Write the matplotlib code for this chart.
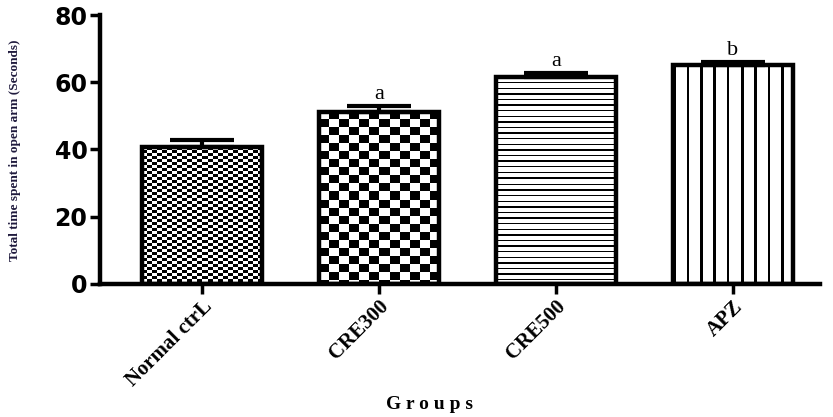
import numpy as np
import matplotlib
matplotlib.use('Agg')
import matplotlib.pyplot as plt

# data
groups = ['Normal ctrL', 'CRE300', 'CRE500', 'APZ']
means = [40.7, 51.2, 61.6, 65.1]
sems = [2.1, 1.7, 1.2, 0.8]
letters = ['', 'a', 'a', 'b']
patterns = ['fine_check', 'big_check', 'hlines', 'vlines']

DPI = 100
fig = plt.figure(figsize=(8.33, 4.17), dpi=DPI)
ax = fig.add_axes([0.12, 0.319, 0.864, 0.645])

x = np.arange(len(groups))
ax.set_xlim(-0.576, 3.49)
ax.set_ylim(0, 80)

bars = ax.bar(x, means, width=0.68, facecolor='none', edgecolor='black',
              linewidth=3.2, zorder=3)
ax.errorbar(x, means, yerr=[np.zeros(len(sems)), sems], fmt='none',
            ecolor='black', elinewidth=3, capsize=23, capthick=3, zorder=4)


def texture(kind, w, h):
    yy, xx = np.mgrid[0:h, 0:w]
    if kind == 'fine_check':
        a = ((yy // 3) + (xx // 5)) % 2
    elif kind == 'big_check':
        a = ((yy // 8) + (xx // 10)) % 2
    elif kind == 'hlines':
        a = ((yy % 5.6) < 1.4).astype(int)
    else:
        a = ((xx % 13.3) < 2.6).astype(int)
    return 1 - a


# fill each bar with its pattern, clipped to the bar
fig.canvas.draw()
for b, kind in zip(bars, patterns):
    bb = b.get_window_extent()
    w_px, h_px = int(round(bb.width)), int(round(bb.height))
    img = texture(kind, max(w_px, 1), max(h_px, 1))
    im = ax.imshow(img, cmap='gray', vmin=0, vmax=1, interpolation='nearest',
                   extent=(b.get_x(), b.get_x() + b.get_width(), 0, b.get_height()),
                   origin='upper', aspect='auto', zorder=2)
    im.set_clip_path(b)

for xi, m, s, t in zip(x, means, sems, letters):
    if t:
        ax.text(xi, m + s + 0.6, t, ha='center', va='bottom', fontsize=16,
                family='Liberation Serif', zorder=5)

for side in ['top', 'right']:
    ax.spines[side].set_visible(False)
for side in ['left', 'bottom']:
    ax.spines[side].set_linewidth(3.2)

ax.set_yticks([0, 20, 40, 60, 80])
ax.tick_params(axis='y', length=7, width=2.5, pad=2)
ax.tick_params(axis='x', length=7, width=2.5, pad=2)
for lab in ax.get_yticklabels():
    lab.set_fontsize(17)
    lab.set_fontweight('heavy')
    lab.set_family('DejaVu Sans')

ax.set_xticks(x)
ax.set_xticklabels(groups, rotation=45, ha='right', rotation_mode='anchor',
                   fontsize=15, fontweight='bold', family='Liberation Serif')

fig.text(0.018, 0.64, 'Total time spent in open arm (Seconds)', rotation=90,
         ha='center', va='center', fontsize=9.5, fontweight='bold',
         family='Liberation Serif', color='#1f1a3d')
fig.text(0.516, 0.01, 'G r o u p s', ha='center', va='bottom', fontsize=14,
         fontweight='bold', family='Liberation Serif')

fig.savefig('out.png', dpi=DPI)
